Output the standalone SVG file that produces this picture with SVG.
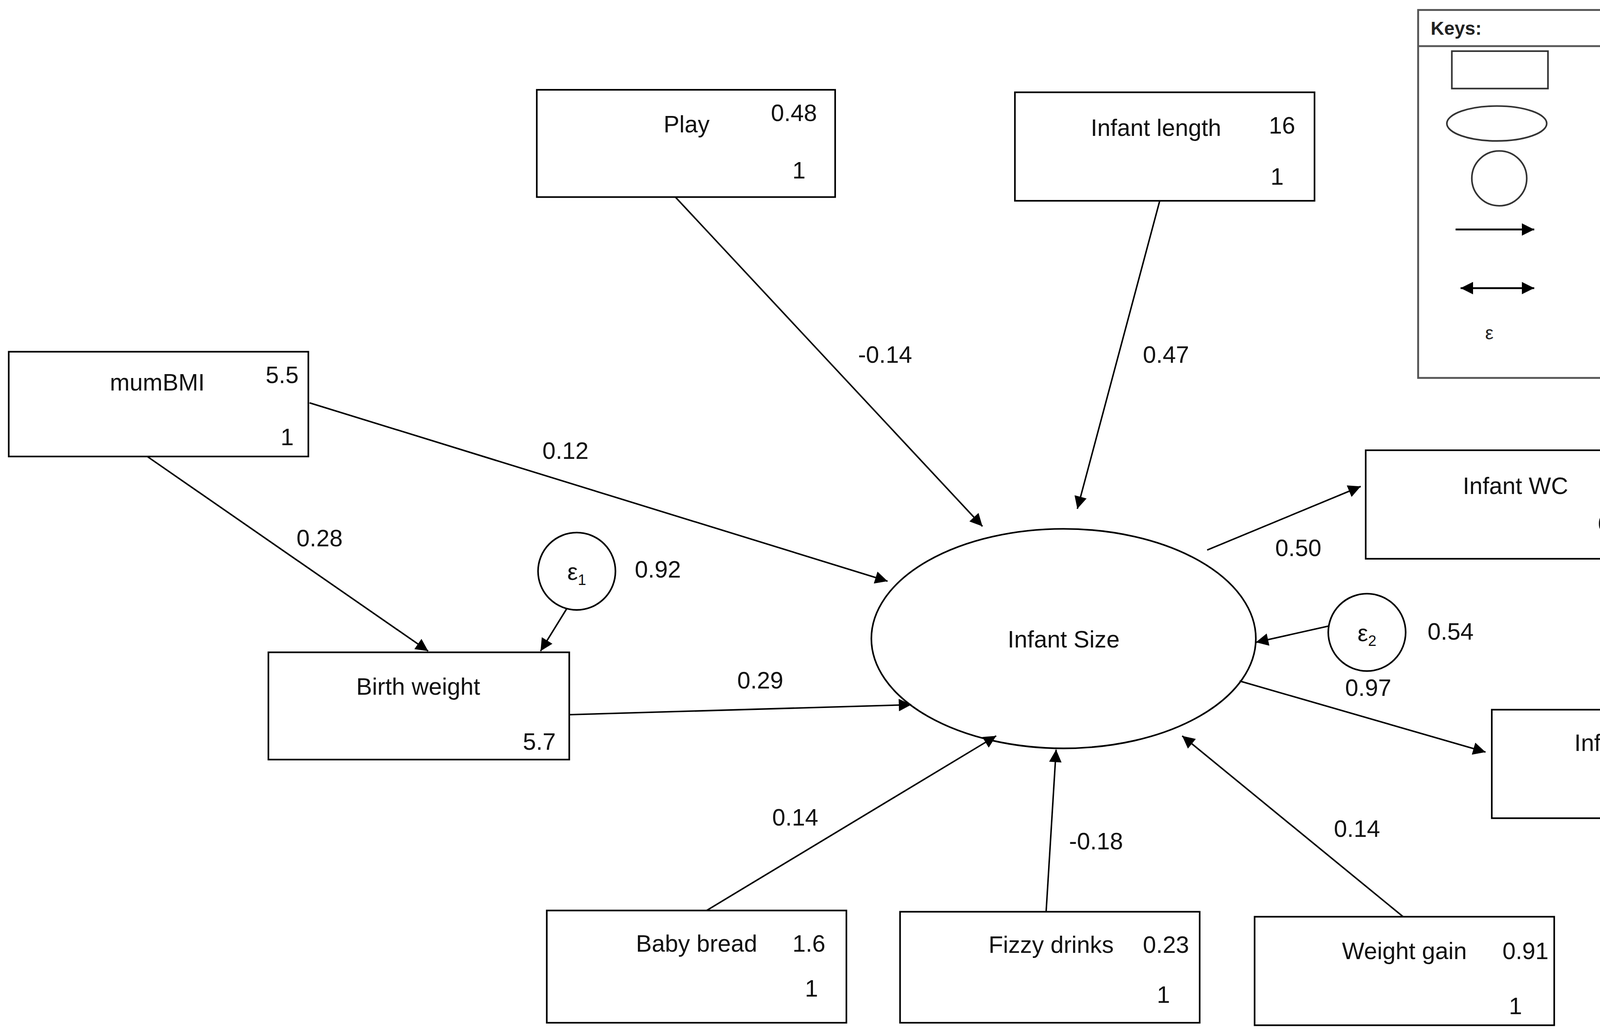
<svg xmlns="http://www.w3.org/2000/svg" width="4995" height="2635" viewBox="0 0 4995 2635">
<style>
.b{fill:#fff;stroke:#000;stroke-width:1.3}
.t{font-family:"Liberation Sans",Arial,sans-serif;font-size:19px;fill:#111}
.m{text-anchor:middle}
.k{font-family:"Liberation Sans",Arial,sans-serif;font-size:15px;fill:#222}
.c line{stroke:#000;stroke-width:1.2;marker-end:url(#ah)}
</style>
<defs>
<marker id="ah" viewBox="0 0 10 10" refX="10" refY="5" markerWidth="11" markerHeight="10" markerUnits="userSpaceOnUse" orient="auto"><path d="M0,0L10,5L0,10z" fill="#000"/></marker>
<marker id="ak" viewBox="0 0 10 10" refX="10" refY="5" markerWidth="10" markerHeight="10" markerUnits="userSpaceOnUse" orient="auto-start-reverse"><path d="M0,0L10,5L0,10z" fill="#000"/></marker>
</defs>
<rect width="4995" height="2635" fill="#fff"/>
<g transform="scale(3.1958,3.1939)">
<g id="keys">
<rect x="1136" y="8" width="417" height="295" fill="#fff" stroke="#555" stroke-width="1.5"/>
<line x1="1136" y1="37" x2="1553" y2="37" stroke="#555" stroke-width="1.5"/>
<text x="1146" y="28" class="k" font-weight="bold">Keys:</text>
<rect x="1163" y="41" width="77" height="30" fill="none" stroke="#333" stroke-width="1.3"/>
<ellipse cx="1199" cy="99" rx="40" ry="14" fill="none" stroke="#333" stroke-width="1.3"/>
<ellipse cx="1201" cy="143" rx="22" ry="22" fill="none" stroke="#333" stroke-width="1.3"/>
<line x1="1166" y1="184" x2="1229" y2="184" stroke="#000" stroke-width="1.5" marker-end="url(#ak)"/>
<line x1="1170" y1="231" x2="1229" y2="231" stroke="#000" stroke-width="1.5" marker-start="url(#ak)" marker-end="url(#ak)"/>
<text x="1193" y="272" class="k m">ε</text>
<text x="1338" y="56" class="k">Observed Variable</text>
<text x="1338" y="94" class="k">Latent variable</text>
<text x="1338" y="149" class="k">Residual error</text>
<text x="1338" y="187" class="k">Predictive relationship</text>
<text x="1338" y="212" class="k">/hypothesised pathway</text>
<text x="1338" y="235" class="k">Correlation</text>
<text x="1338" y="273" class="k">Error terms i.e. residual</text>
<text x="1338" y="297" class="k">variances</text>
</g>
<g id="play"><rect class="b" x="430" y="72" width="239" height="86"/><text class="t m" x="550" y="106">Play</text><text class="t m" x="636" y="97">0.48</text><text class="t m" x="640" y="143">1</text></g>
<g id="infant-length"><rect class="b" x="813" y="74" width="240" height="87"/><text class="t m" x="926" y="109">Infant length</text><text class="t m" x="1027" y="107">16</text><text class="t m" x="1023" y="148">1</text></g>
<g id="mumbmi"><rect class="b" x="7" y="282" width="240" height="84"/><text class="t m" x="126" y="313">mumBMI</text><text class="t m" x="226" y="307">5.5</text><text class="t m" x="230" y="357">1</text></g>
<g id="infant-wc"><rect class="b" x="1094" y="361" width="240" height="87"/><text class="t m" x="1214" y="396">Infant WC</text><text class="t m" x="1293" y="426">6.1</text></g>
<g id="e3"><circle class="b" cx="1418" cy="393" r="32"/><text class="t m" x="1418" y="400">ε<tspan font-size="12" dy="4">3</tspan></text><text class="t m" x="1417" y="446">0.75</text></g>
<g id="birth-weight"><rect class="b" x="215" y="523" width="241" height="86"/><text class="t m" x="335" y="557">Birth weight</text><text class="t m" x="432" y="601">5.7</text></g>
<g id="e1"><circle class="b" cx="462" cy="458" r="31"/><text class="t m" x="462" y="465">ε<tspan font-size="12" dy="4">1</tspan></text><text class="t m" x="527" y="463">0.92</text></g>
<g id="infant-size"><ellipse class="b" cx="852" cy="512" rx="154" ry="88"/><text class="t m" x="852" y="519">Infant Size</text></g>
<g id="e2"><circle class="b" cx="1095" cy="507" r="31"/><text class="t m" x="1095" y="514">ε<tspan font-size="12" dy="4">2</tspan></text><text class="t m" x="1162" y="513">0.54</text></g>
<g id="infant-weight"><rect class="b" x="1195" y="569" width="240" height="87"/><text class="t m" x="1315" y="602">Infant weight</text><text class="t m" x="1403" y="642">-1.1</text></g>
<g id="e4"><circle class="b" cx="1524" cy="605" r="32"/><text class="t m" x="1524" y="612">ε<tspan font-size="12" dy="4">4</tspan></text><text class="t m" x="1522" y="552">0.053</text></g>
<g id="baby-bread"><rect class="b" x="438" y="730" width="240" height="90"/><text class="t m" x="558" y="763">Baby bread</text><text class="t m" x="648" y="763">1.6</text><text class="t m" x="650" y="799">1</text></g>
<g id="fizzy-drinks"><rect class="b" x="721" y="731" width="240" height="89"/><text class="t m" x="842" y="764">Fizzy drinks</text><text class="t m" x="934" y="764">0.23</text><text class="t m" x="932" y="804">1</text></g>
<g id="weight-gain"><rect class="b" x="1005" y="735" width="240" height="87"/><text class="t m" x="1125" y="769">Weight gain</text><text class="t m" x="1222" y="769">0.91</text><text class="t m" x="1214" y="813">1</text></g>
<g class="c" id="connectors">
<line x1="541" y1="158" x2="787" y2="422"/>
<line x1="929" y1="161" x2="863" y2="408"/>
<line x1="248" y1="323" x2="711" y2="466"/>
<line x1="118" y1="366" x2="343" y2="522"/>
<line x1="454" y1="488" x2="433" y2="522"/>
<line x1="456" y1="573" x2="730" y2="565"/>
<line x1="967" y1="441" x2="1090" y2="390"/>
<line x1="1386" y1="399" x2="1336" y2="405"/>
<line x1="1064" y1="502" x2="1006" y2="515"/>
<line x1="993" y1="546" x2="1190" y2="603"/>
<line x1="1492" y1="612" x2="1438" y2="622"/>
<line x1="566" y1="730" x2="798" y2="590"/>
<line x1="838" y1="731" x2="846" y2="601"/>
<line x1="1124" y1="735" x2="947" y2="590"/>
</g>
<g id="edge-labels" class="t m">
<text x="709" y="291">-0.14</text>
<text x="934" y="291">0.47</text>
<text x="453" y="368">0.12</text>
<text x="256" y="438">0.28</text>
<text x="609" y="552">0.29</text>
<text x="1040" y="446">0.50</text>
<text x="1096" y="558">0.97</text>
<text x="637" y="662">0.14</text>
<text x="878" y="681">-0.18</text>
<text x="1087" y="671">0.14</text>
</g>
</g>
</svg>
